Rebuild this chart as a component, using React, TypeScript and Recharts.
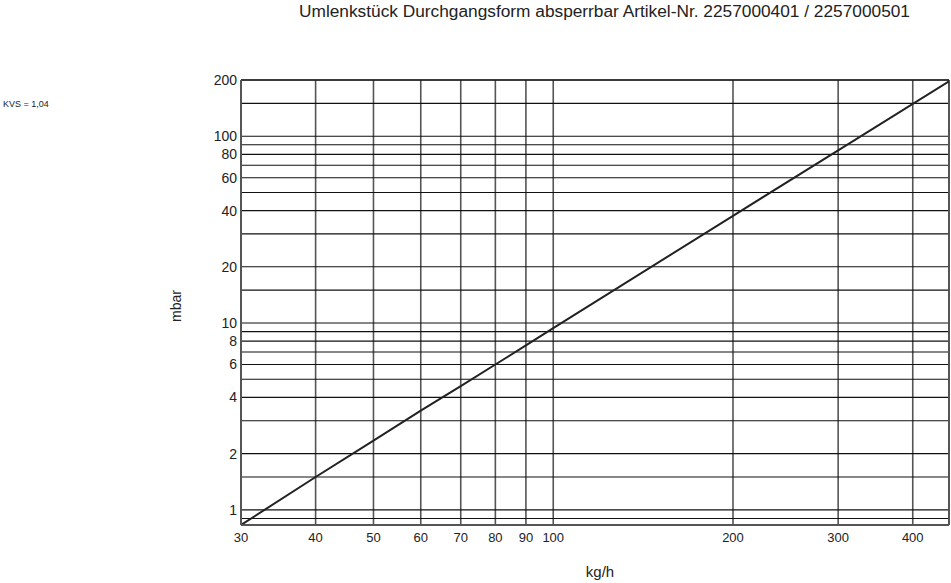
import { LineChart, Line, XAxis, YAxis, CartesianGrid, ReferenceLine } from "recharts"

// Druckverlust über Massenstrom, log-log
const flowKgH = [30, 40, 50, 60, 70, 80, 90, 100, 200, 300, 460]
const lossMbar = [0.83, 1.5, 2.35, 3.4, 4.6, 6.0, 7.6, 9.4, 37.5, 84, 197]

const xTicks = [30, 40, 50, 60, 70, 80, 90, 100, 200, 300, 400]
const yGrid = [0.9, 1, 1.5, 2, 3, 4, 5, 6, 7, 8, 9, 10, 15, 20, 30, 40, 50, 60, 70, 80, 90, 100, 150, 200]
const yLabels = [1, 2, 4, 6, 8, 10, 20, 40, 60, 80, 100, 200]

const data = flowKgH.map((q, i) => ({ q, p: lossMbar[i] }))

const font = "'Liberation Sans', Arial, sans-serif"

const App = () => {
  return (
    <div style={{ position: "absolute", left: 0, top: 0, width: 951, height: 583, fontFamily: font, color: "#222" }}>
      <div style={{ position: "absolute", left: 0, width: 951, top: 1, paddingLeft: 258, textAlign: "center", fontSize: 17.3, boxSizing: "border-box" }}>
        Umlenkstück Durchgangsform absperrbar Artikel-Nr. 2257000401 / 2257000501
      </div>
      <div style={{ position: "absolute", left: 3, top: 99, fontSize: 9 }}>KVS = 1,04</div>
      <div style={{ position: "absolute", left: 156, top: 298, width: 40, textAlign: "center", fontSize: 14, transform: "rotate(-90deg)" }}>mbar</div>
      <div style={{ position: "absolute", left: 570, top: 563, width: 60, textAlign: "center", fontSize: 15 }}>kg/h</div>
      <LineChart width={951} height={583} data={data} margin={{ top: 80, right: 2, bottom: 0, left: 0 }}>
        <CartesianGrid horizontal={false} verticalValues={xTicks} stroke="#555" strokeWidth={1.6} />
        <CartesianGrid vertical={false} horizontalValues={yGrid} stroke="#111" strokeWidth={1.1} />
        <XAxis
          dataKey="q"
          type="number"
          scale="log"
          domain={[30, 460]}
          ticks={xTicks}
          interval={0}
          height={58}
          tickLine={false}
          axisLine={{ stroke: "#555", strokeWidth: 2 }}
          tick={{ fill: "#222", fontSize: 13, fontFamily: font }}
          allowDataOverflow
        />
        <YAxis
          dataKey="p"
          type="number"
          scale="log"
          domain={[0.83, 200]}
          ticks={yGrid}
          interval={0}
          width={241}
          tickLine={false}
          tickMargin={-2}
          axisLine={{ stroke: "#555", strokeWidth: 2 }}
          tickFormatter={(v: number) => (yLabels.includes(v) ? String(v) : "")}
          tick={{ fill: "#222", fontSize: 14, fontFamily: font }}
          allowDataOverflow
        />
        <ReferenceLine x={460} stroke="#555" strokeWidth={2} />
        <ReferenceLine y={200} stroke="#222" strokeWidth={1.5} />
        <Line type="linear" dataKey="p" stroke="#222" strokeWidth={2} dot={false} isAnimationActive={false} />
      </LineChart>
    </div>
  )
}

export default App
